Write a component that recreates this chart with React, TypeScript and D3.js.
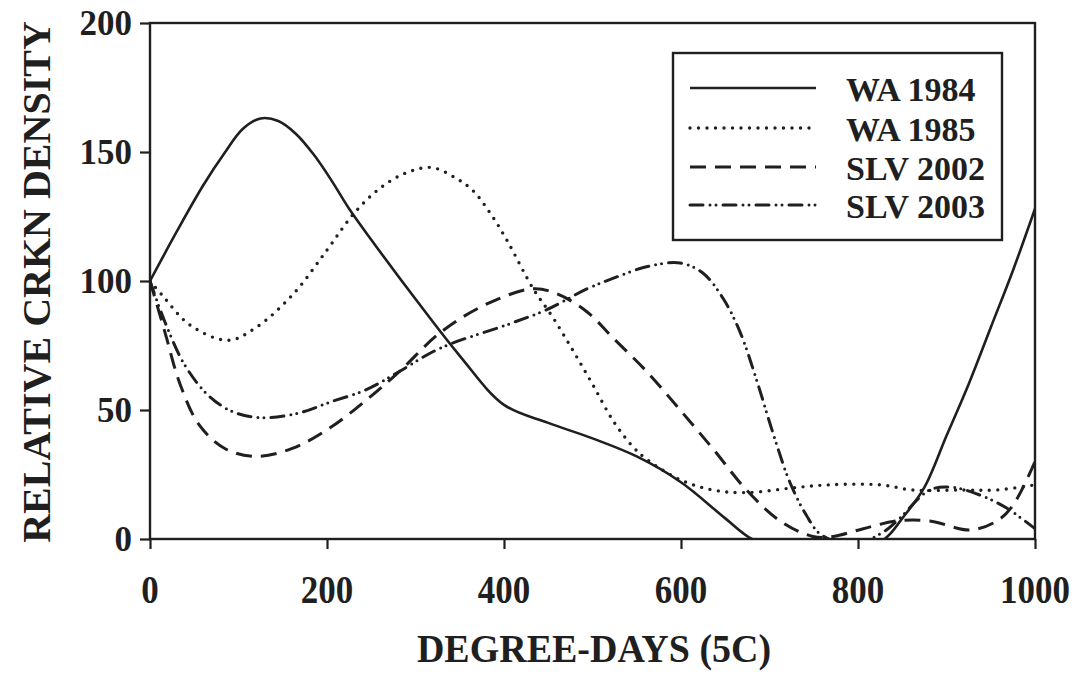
import React, { useEffect, useRef } from "react";
import * as d3 from "d3";

// values: [degree-days, relative density]
const wa1984 = [
  [0, 100], [30, 119], [60, 137], [85, 150], [105, 159], [125, 163],
  [145, 162], [165, 157], [185, 149], [205, 139], [225, 128], [250, 116],
  [300, 93], [350, 71], [400, 52], [450, 45], [500, 39], [550, 32],
  [600, 22], [650, 8], [680, 0], [720, -5], [780, -7], [830, 0],
  [850, 8], [875, 20], [900, 40], [925, 60], [950, 82], [975, 104],
  [1000, 128],
];
const wa1985 = [
  [0, 100], [15, 94], [45, 83], [88, 77], [120, 82], [162, 95],
  [200, 112], [230, 126], [260, 136], [290, 142], [318, 144], [345, 140],
  [365, 135], [385, 126], [403, 116], [433, 97], [455, 86], [478, 73],
  [500, 60], [523, 46], [545, 36], [561, 31], [599, 23], [636, 19],
  [674, 18], [731, 20], [768, 21], [825, 21], [862, 19], [919, 19],
  [957, 19], [1000, 21],
];
const slv2002 = [
  [0, 100], [17, 80], [34, 60], [56, 44], [85, 35], [119, 32], [160, 35],
  [203, 43], [245, 54], [282, 65], [328, 80], [380, 91], [433, 97],
  [460, 95], [494, 88], [523, 78], [561, 65], [599, 50], [636, 35],
  [674, 19], [712, 7], [749, 1], [772, 1], [806, 4], [844, 7], [881, 7],
  [927, 3.5], [957, 7], [975, 13], [1000, 30],
];
const slv2003 = [
  [0, 100], [17, 84], [40, 67], [68, 55], [96, 49], [130, 47], [170, 49],
  [203, 53], [245, 58], [282, 65], [328, 74], [403, 83], [449, 89],
  [494, 97], [523, 101], [561, 105.5], [599, 107], [625, 103], [648, 93],
  [667, 80], [686, 61], [704, 41], [723, 22], [742, 9], [757, 2],
  [785, -2], [806, -1], [830, 3], [847, 8], [881, 19], [907, 20],
  [938, 17], [968, 12], [1000, 4],
];

const seriesNames = ["WA 1984", "WA 1985", "SLV 2002", "SLV 2003"];
const xTicks = [0, 200, 400, 600, 800, 1000];
const yTicks = [0, 50, 100, 150, 200];

const ink = "#1f1f1f";
const font = "'Liberation Serif', 'Times New Roman', serif";

const styles = [
  { dash: null, cap: "butt", w: 2.6 },
  { dash: "0 8.5", cap: "round", w: 3.4 },
  { dash: "16 9", cap: "butt", w: 3 },
  { dash: "13 7 0 6 0 7", cap: "round", w: 3 },
];

export default function App() {
  const svgRef = useRef(null);
  const width = 1074;
  const height = 674;

  useEffect(() => {
    const svg = d3.select(svgRef.current);
    svg.selectAll("*").remove();

    const left = 150, right = 1035, top = 23, bottom = 539;

    const x = d3.scaleLinear().domain([0, 1000]).range([left, right]);
    const y = d3.scaleLinear().domain([0, 200]).range([bottom, top]);

    svg.append("rect").attr("width", width).attr("height", height).attr("fill", "#fff");

    svg.append("defs").append("clipPath").attr("id", "plot-clip")
      .append("rect")
      .attr("x", left).attr("y", top)
      .attr("width", right - left).attr("height", bottom - top);

    // curves
    const line = d3.line()
      .x((d) => x(d[0]))
      .y((d) => y(d[1]))
      .curve(d3.curveCatmullRom.alpha(0.5));

    const data = [wa1984, wa1985, slv2002, slv2003];
    const curves = svg.append("g").attr("clip-path", "url(#plot-clip)");
    data.forEach((d, i) => {
      const p = curves.append("path")
        .datum(d)
        .attr("fill", "none")
        .attr("stroke", ink)
        .attr("stroke-width", styles[i].w)
        .attr("stroke-linecap", styles[i].cap)
        .attr("stroke-linejoin", "round")
        .attr("d", line);
      if (styles[i].dash) p.attr("stroke-dasharray", styles[i].dash);
    });

    // frame
    svg.append("rect")
      .attr("x", left).attr("y", top)
      .attr("width", right - left).attr("height", bottom - top)
      .attr("fill", "none").attr("stroke", ink).attr("stroke-width", 2.4);

    // axes
    const xAxis = d3.axisBottom(x).tickValues(xTicks).tickSize(10).tickFormat(() => "");
    const yAxis = d3.axisLeft(y).tickValues(yTicks).tickSize(10).tickFormat(() => "");
    const gx = svg.append("g").attr("transform", `translate(0,${bottom})`).call(xAxis);
    const gy = svg.append("g").attr("transform", `translate(${left},0)`).call(yAxis);
    [gx, gy].forEach((g) => {
      g.select(".domain").remove();
      g.selectAll("line").attr("stroke", ink).attr("stroke-width", 2.2);
    });

    // tick labels
    svg.append("g").selectAll("text").data(xTicks).join("text")
      .attr("transform", (d) => `translate(${x(d)},${603}) scale(1,1.15)`)
      .attr("text-anchor", "middle")
      .attr("font-family", font).attr("font-weight", "bold")
      .attr("font-size", 35).attr("fill", ink)
      .text((d) => d);

    svg.append("g").selectAll("text").data(yTicks).join("text")
      .attr("x", 132).attr("y", (d) => y(d) + 12)
      .attr("text-anchor", "end")
      .attr("font-family", font).attr("font-weight", "bold")
      .attr("font-size", 35).attr("fill", ink)
      .text((d) => d);

    // axis titles
    svg.append("text")
      .attr("transform", `translate(594,662) scale(1,1.08)`)
      .attr("text-anchor", "middle")
      .attr("font-family", font).attr("font-weight", "bold")
      .attr("font-size", 38).attr("fill", ink)
      .text("DEGREE-DAYS (5C)");

    svg.append("text")
      .attr("transform", `translate(50,282) rotate(-90)`)
      .attr("text-anchor", "middle")
      .attr("font-family", font).attr("font-weight", "bold")
      .attr("font-size", 40).attr("fill", ink)
      .text("RELATIVE CRKN DENSITY");

    // legend
    const legend = svg.append("g");
    legend.append("rect")
      .attr("x", 673).attr("y", 53).attr("width", 329).attr("height", 187)
      .attr("fill", "#fff").attr("stroke", ink).attr("stroke-width", 2.4);

    const rowY = [88, 128, 167, 205];
    seriesNames.forEach((name, i) => {
      const l = legend.append("line")
        .attr("x1", 690).attr("x2", 816)
        .attr("y1", rowY[i]).attr("y2", rowY[i])
        .attr("stroke", ink)
        .attr("stroke-width", styles[i].w)
        .attr("stroke-linecap", styles[i].cap);
      if (styles[i].dash) l.attr("stroke-dasharray", styles[i].dash);
      legend.append("text")
        .attr("x", 846).attr("y", rowY[i] + 13)
        .attr("font-family", font).attr("font-weight", "bold")
        .attr("font-size", 34).attr("fill", ink)
        .text(name);
    });
  }, []);

  return (
    <React.Fragment>
      <svg
        width={width}
        height={height}
        ref={svgRef}
        style={{ position: "absolute", left: 0, top: 0, display: "block" }}
      />
    </React.Fragment>
  );
}
